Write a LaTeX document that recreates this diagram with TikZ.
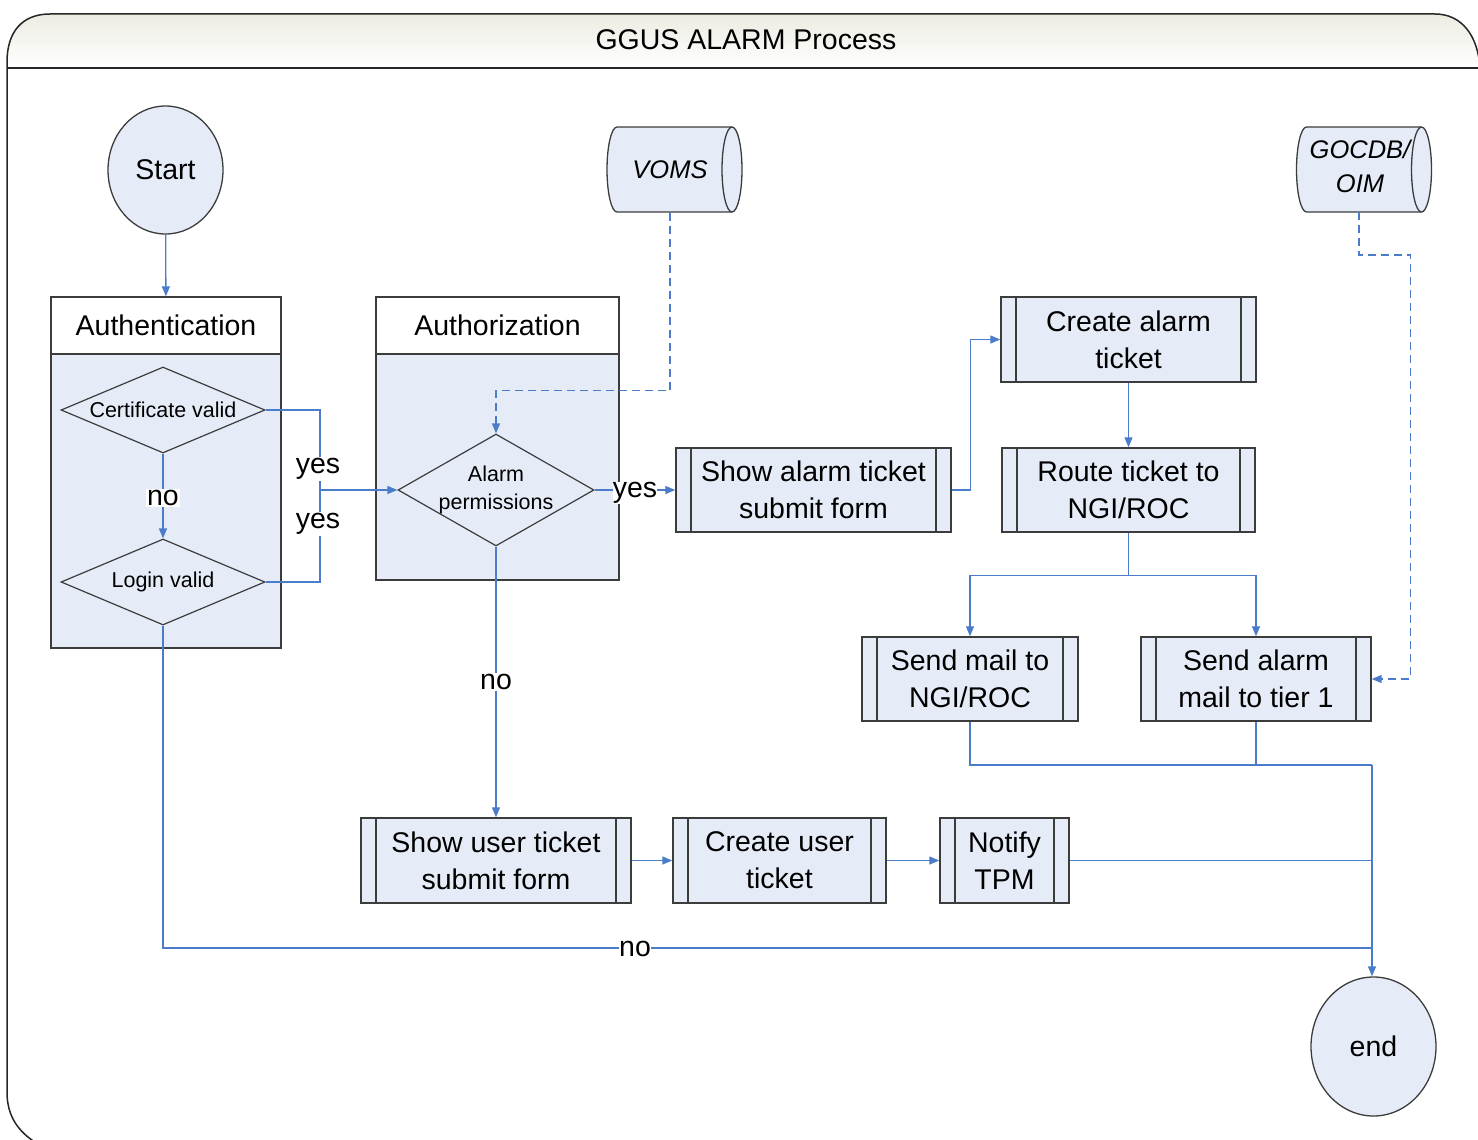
\documentclass[tikz,border=0pt]{standalone}
\usepackage{fontspec}
\setmainfont{Liberation Sans}
\usetikzlibrary{shapes.geometric,arrows.meta}
\definecolor{boxfill}{HTML}{E6ECF7}
\definecolor{connc}{HTML}{4A7CC9}
\definecolor{edge}{HTML}{3C3C3C}
\definecolor{hdrtop}{HTML}{ECECE2}
\begin{document}
\begin{tikzpicture}[x=1pt,y=-1pt,
  big/.style={font=\fontsize{28.5}{37}\selectfont},
  small/.style={font=\fontsize{21.5}{28}\selectfont},
  term/.style={ellipse, draw=edge, line width=1.3pt, fill=boxfill, big, inner sep=0pt},
  proc/.style={rectangle, draw=edge, line width=1.4pt, fill=boxfill, big, align=center, inner sep=0pt,
     path picture={\draw[edge,line width=1.4pt]
       ([xshift=15pt]path picture bounding box.north west) -- ([xshift=15pt]path picture bounding box.south west)
       ([xshift=-15pt]path picture bounding box.north east) -- ([xshift=-15pt]path picture bounding box.south east);}},
  dec/.style={diamond, draw=edge, line width=1.2pt, fill=boxfill, small, align=center, inner sep=-2pt},
  grp/.style={rectangle, draw=edge, line width=1.4pt, fill=boxfill, inner sep=0pt},
  grphead/.style={rectangle, draw=edge, line width=1.4pt, fill=white, big, inner sep=0pt},
  storetext/.style={align=center, inner sep=0pt, minimum width=135, minimum height=85,
     font=\fontsize{25.5}{34}\selectfont\itshape},
  storeshape/.style={draw=edge, line width=1.3pt, fill=boxfill},
  frame/.style={draw=black!85, line width=1.5pt},
  conn/.style={draw=connc, line width=1.3pt},
  arr/.style={conn, -{Triangle[length=10pt,width=8pt]}},
  dsh/.style={dash pattern=on 8pt off 5pt},
  lbl/.style={fill=white, big, inner sep=1pt}
]
\useasboundingbox (0,0) rectangle (1478,1140);
% frame
\fill[top color=hdrtop, bottom color=white] (7,68) -- (7,62) .. controls (7,32) and (22,14) .. (50,14)
   -- (1435,14) .. controls (1462,14) and (1478,36) .. (1480,68) -- cycle;
\draw[frame] (7,1092) -- (7,62) .. controls (7,32) and (22,14) .. (50,14)
   -- (1435,14) .. controls (1462,14) and (1478,36) .. (1480,68) -- (1480,1150);
\draw[frame] (7,1092) .. controls (7,1116) and (18,1132) .. (38,1144);
\draw[frame] (7,68) -- (1480,68);
\node[big] (title) at (746,40) {GGUS ALARM Process};

% groups
\node[grp, minimum width=230, minimum height=294] (authbody) at (166,501) {};
\node[grphead, minimum width=230, minimum height=57] (authhead) at (166,325.5) {Authentication};
\node[grp, minimum width=243, minimum height=226] (azbody) at (497.5,467) {};
\node[grphead, minimum width=243, minimum height=57] (azhead) at (497.5,325.5) {Authorization};

% terminals
\node[term, minimum width=115, minimum height=128] (start) at (165.5,170) {Start};
\node[term, minimum width=125, minimum height=139] (endn) at (1373.5,1046.5) {end};

% stores (cylinders)
\foreach \cx/\cy in {674.5/169.5, 1364/169.5}{
  \begin{scope}[shift={(\cx,\cy)}]
    \path[storeshape] (-57.5,-42.5) -- (57.5,-42.5)
      arc[start angle=-90, end angle=90, x radius=10, y radius=42.5]
      -- (-57.5,42.5)
      arc[start angle=90, end angle=270, x radius=10, y radius=42.5] -- cycle;
    \draw[edge, line width=1.3pt] (57.5,-42.5) arc[start angle=-90, end angle=-270, x radius=10, y radius=42.5];
  \end{scope}
}
\node[storetext] (voms) at (670,169.5) {VOMS};
\node[storetext] (gocdb) at (1360,166.5) {GOCDB/\\OIM};

% decisions
\node[dec, aspect=2.37, minimum width=204, minimum height=86] (cert) at (163,410) {Certificate valid};
\node[dec, aspect=2.37, minimum width=204, minimum height=86] (login) at (163,582) {Login valid};
\node[dec, aspect=1.75, minimum width=196, minimum height=112] (alarm) at (496,490) {Alarm\\permissions};

% processes
\node[proc, minimum width=275, minimum height=84] (showalarm) at (813.5,490) {Show alarm ticket\\submit form};
\node[proc, minimum width=255, minimum height=85] (createalarm) at (1128.5,339.5) {Create alarm\\ticket};
\node[proc, minimum width=253, minimum height=84] (route) at (1128.5,490) {Route ticket to\\NGI/ROC};
\node[proc, minimum width=216, minimum height=84] (sendmail) at (970,679) {Send mail to\\NGI/ROC};
\node[proc, minimum width=230, minimum height=84] (sendalarm) at (1256,679) {Send alarm\\mail to tier 1};
\node[proc, minimum width=270, minimum height=85] (showuser) at (496,860.5) {Show user ticket\\submit form};
\node[proc, minimum width=213, minimum height=85] (createuser) at (779.5,860.5) {Create user\\ticket};
\node[proc, minimum width=129, minimum height=85] (notify) at (1004.5,860.5) {Notify\\TPM};

% connectors
\draw[arr] (start) -- (authhead);
\coordinate (yesjoin) at (320,490);
\draw[conn] (cert.east) -| (yesjoin);
\draw[conn] (login.east) -| (yesjoin);
\draw[arr] (yesjoin) -- (alarm.west);
\node[lbl] (yes1) at (318,469) {yes};
\node[lbl] (yes2) at (318,524) {yes};
\draw[arr] (cert.south) -- node[lbl, yshift=-2pt] (no1) {no} (login.north);

\coordinate (mergeNo) at (1372,948);
\coordinate (mergeTop) at (1372,765);
\draw[conn] (login.south) |- (mergeNo);
\node[lbl, inner sep=0pt] (no3) at (635,949) {no};

\draw[arr, dsh] ([yshift=-0.5pt]voms.south) -- ++(0,178) -| (alarm.north);
\draw[arr] (alarm.east) -- node[lbl, inner sep=0pt, yshift=-3pt] (yes3) {yes} (showalarm.west);
\draw[arr] (showalarm.east) -- ++(19,0) |- (createalarm.west);
\draw[arr] (createalarm) -- (route);
\draw[arr] (route.south) -- ++(0,43) -| (sendmail.north);
\draw[arr] (route.south) -- ++(0,43) -| (sendalarm.north);
\draw[arr, dsh] (1359,212) -- ++(0,43) -| ([xshift=39pt]sendalarm.east) -- (sendalarm.east);
\draw[conn] (sendmail.south) |- (mergeTop);
\draw[conn] (sendalarm.south) |- (mergeTop);
\draw[arr] (mergeTop) -- (endn.north -| mergeTop);

\draw[arr] (alarm.south) -- node[lbl] (no2) {no} (showuser.north);
\draw[arr] (showuser) -- (createuser);
\draw[arr] (createuser) -- (notify);
\draw[conn] (notify.east) -- (notify.east -| mergeTop);
\end{tikzpicture}
\end{document}
